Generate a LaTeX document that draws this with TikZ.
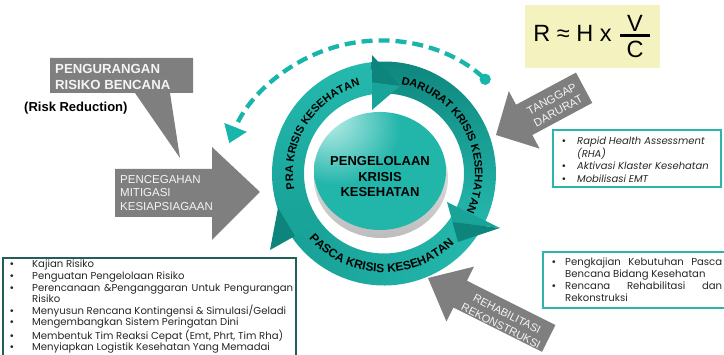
\documentclass[tikz,border=0pt]{standalone}
\usepackage{fontspec}
\setmainfont{Liberation Sans}
\newfontfamily\listfont{Poppins}
\usetikzlibrary{arrows.meta,decorations.text}

\definecolor{ringlight}{HTML}{25B9AE}
\definecolor{ringmid}{HTML}{17A096}
\definecolor{ringdark}{HTML}{0E857C}
\definecolor{dashteal}{HTML}{17B5AA}
\definecolor{callgray}{HTML}{7F7F7F}
\definecolor{calltext}{HTML}{F4F4F4}
\definecolor{formbg}{HTML}{F4F2BF}
\definecolor{boxteal}{HTML}{2CB5AB}
\definecolor{boxdark}{HTML}{245E59}
\definecolor{facehi}{HTML}{A6E6E0}
\definecolor{facemid}{HTML}{22B5AA}
\definecolor{facelow}{HTML}{139D93}
\definecolor{rimlight}{HTML}{F2F2F2}
\definecolor{rimdark}{HTML}{BDBDBD}

\pgfdeclareradialshading{facegloss}{\pgfpoint{-22bp}{24bp}}{%
  color(0bp)=(facehi); color(5bp)=(facehi); color(24bp)=(facemid);
  color(62bp)=(facemid); color(95bp)=(facelow)}

\newcommand\ringfont{\fontsize{11}{11}\selectfont\bfseries}
\newcommand\bul{{\rmfamily\textbullet}}
\newcommand\ringband[3]{%
  \shade[#3] ([shift={(C)}]#1:112) arc[start angle=#1,end angle=#2,radius=112]
    -- ([shift={(C)}]#2:80) arc[start angle=#2,end angle=#1,radius=80] -- cycle;}

\tikzset{
  dashret/.style={draw=dashteal, line width=4.3pt, dash pattern=on 11pt off 6pt,
    {Circle[length=11pt]}-{Triangle[length=17pt,width=23pt]}},
  praband/.style={top color=ringlight, bottom color=ringmid},
  daruratband/.style={top color=ringdark, bottom color=ringlight},
  pascaband/.style={left color=ringmid, right color=ringlight},
  headlight/.style={fill=ringmid!85!ringlight},
  headdark/.style={fill=ringdark},
  ringtxt/.style={decorate, decoration={text along path, text align=center,
    text={|\ringfont|#1}}},
  pascatxt/.style={decorate, decoration={text along path, text align=center,
    text={|\fontsize{12}{12}\selectfont\bfseries|#1}}},
  calloutshape/.style={fill=callgray},
  callouttxt/.style={text=calltext, align=left, inner sep=0pt},
  listtxt/.style={font=\listfont\fontsize{10.1}{11.9}\selectfont, align=left, inner sep=0pt, text=black!85},
  infobox/.style={draw=boxteal, line width=1.6pt},
}

\begin{document}
\begin{tikzpicture}[x=1pt,y=1pt]
\useasboundingbox (0,0) rectangle (724,355);
\coordinate (C) at (384,181.5);
\coordinate (D) at (380,152.4);

% dashed return arc from the emergency phase back to risk reduction
\draw[dashret] ([shift={(D)}]47.6:162) arc[start angle=47.6,end angle=158.5,radius=162];

% ring segments
\ringband{-28}{-146}{pascaband}
\ringband{214}{97}{praband}
\ringband{97}{-30}{daruratband}

% arrowheads of the ring segments
\fill[headdark]  (372,300) -- (400,269) -- (372,272.5) -- cycle;
\fill[headlight] (372,272.5) -- (400,269) -- (372,245) -- cycle;
\fill[headlight] (447,153) -- (500,127) -- (452.5,133) -- cycle;
\fill[headdark]  (452.5,133) -- (500,127) -- (458,113) -- cycle;
\fill[headlight] (320,133) -- (278,147) -- (295,119) -- cycle;
\fill[headdark]  (295,119) -- (278,147) -- (270,105) -- cycle;

% central disc
\shade[top color=rimlight, bottom color=rimdark] (381,177) ellipse[x radius=67,y radius=60];
\shade[shading=facegloss] (380,184) ellipse[x radius=66,y radius=59];
\node[font=\fontsize{13}{15.5}\selectfont\bfseries, align=center] (core) at (380,178)
  {PENGELOLAAN\\KRISIS\\KESEHATAN};

% ring labels
\path[ringtxt={PRA KRISIS KESEHATAN}] ([shift={(C)}]200:91) arc[start angle=200,end angle=95,radius=91];
\path[ringtxt={DARURAT KRISIS KESEHATAN}] ([shift={(C)}]85:91) arc[start angle=85,end angle=-31,radius=91];
\path[pascatxt={PASCA KRISIS KESEHATAN}] ([shift={(C)}]210:99) arc[start angle=210,end angle=326,radius=99];

% risk reduction callout
\fill[calloutshape] (50,297) -- (193,297) -- (193,262) -- (170,262) -- (180,197) -- (135,262) -- (50,262) -- cycle;
\node[callouttxt, font=\fontsize{13.2}{16}\selectfont\bfseries, anchor=west] (prb) at (55,278)
  {PENGURANGAN\\RISIKO BENCANA};
\node[font=\fontsize{13}{13}\selectfont\bfseries, anchor=west, inner sep=0pt] (rr) at (24,247) {(Risk Reduction)};

% prevention block arrow
\fill[calloutshape] (115,186) -- (212,186) -- (212,208) -- (260,163) -- (212,115) -- (212,138) -- (115,138) -- cycle;
\node[callouttxt, font=\fontsize{11.5}{13.5}\selectfont, anchor=west] (pmk) at (120,162)
  {PENCEGAHAN\\MITIGASI\\KESIAPSIAGAAN};

% emergency response arrow
\begin{scope}[shift={(496,220)}, rotate=208.2]
  \fill[calloutshape] (0,0) -- (-32,32.6) -- (-32,17.2) -- (-100,17.2) -- (-100,-17.2) -- (-32,-17.2) -- (-32,-32.6) -- cycle;
\end{scope}
\node[callouttxt, align=center, font=\fontsize{11.3}{13.5}\selectfont, rotate=28.2] (td) at (555,250)
  {TANGGAP\\DARURAT};

% rehabilitation arrow
\begin{scope}[shift={(428,77)}, rotate=153.4]
  \fill[calloutshape] (0,0) -- (-36,30.7) -- (-36,15) -- (-135,15) -- (-135,-15) -- (-36,-15) -- (-36,-30.7) -- cycle;
\end{scope}
\node[callouttxt, align=center, font=\fontsize{11}{13.5}\selectfont, rotate=-26.6] (rr2) at (504,35)
  {REHABILITASI\\REKONSTRUKSI};

% risk formula
\fill[formbg] (525,287) rectangle (660,350);
\node[font=\fontsize{23.5}{23.5}\selectfont, inner sep=0pt] (rhs) at (572.5,321.5) {R ≈ H x};
\node[font=\fontsize{23.5}{23.5}\selectfont, inner sep=0pt] (vv) at (635,331.5) {V};
\node[font=\fontsize{23.5}{23.5}\selectfont, inner sep=0pt] (cc) at (635,306) {C};
\draw[line width=2.2pt] (620,319.5) -- (650,319.5);

% emergency actions
\draw[infobox] (553,225) rectangle (721,168);
\node[listtxt, font=\listfont\itshape\fontsize{10}{12.7}\selectfont, anchor=north west] (emg) at (559,218.5)
  {\makebox[18pt][l]{\hspace{3pt}\bul}Rapid Health Assessment\\
   \hspace*{18pt}(RHA)\\
   \makebox[18pt][l]{\hspace{3pt}\bul}Aktivasi Klaster Kesehatan\\
   \makebox[18pt][l]{\hspace{3pt}\bul}Mobilisasi EMT};

% post-crisis actions
\draw[infobox] (543,103) rectangle (730,47);
\node[listtxt, anchor=north west] (post) at (549,97.5)
  {\makebox[16pt][l]{\hspace{3pt}\bul}\makebox[157pt][s]{Pengkajian Kebutuhan Pasca}\\
   \hspace*{16pt}Bencana Bidang Kesehatan\\
   \makebox[16pt][l]{\hspace{3pt}\bul}\makebox[157pt][s]{Rencana Rehabilitasi dan}\\
   \hspace*{16pt}Rekonstruksi};

% pre-crisis actions
\draw[draw=boxdark, line width=1.3pt] (3,97) rectangle (296,-10);
\node[listtxt, font=\listfont\fontsize{10.1}{11.6}\selectfont, anchor=north west] (pre) at (5,95)
  {\makebox[27pt][l]{\hspace{5pt}\bul}Kajian Risiko\\
   \makebox[27pt][l]{\hspace{5pt}\bul}Penguatan Pengelolaan Risiko\\
   \makebox[27pt][l]{\hspace{5pt}\bul}\makebox[261pt][s]{Perencanaan \&Penganggaran Untuk Pengurangan}\\
   \hspace*{27pt}Risiko\\
   \makebox[27pt][l]{\hspace{5pt}\bul}Menyusun Rencana Kontingensi \& Simulasi/Geladi\\
   \makebox[27pt][l]{\hspace{5pt}\bul}Mengembangkan Sistem Peringatan Dini\\
   \makebox[27pt][l]{\hspace{5pt}\bul}Membentuk Tim Reaksi Cepat (Emt, Phrt, Tim Rha)\\
   \makebox[27pt][l]{\hspace{5pt}\bul}Menyiapkan Logistik Kesehatan Yang Memadai};
\end{tikzpicture}
\end{document}
